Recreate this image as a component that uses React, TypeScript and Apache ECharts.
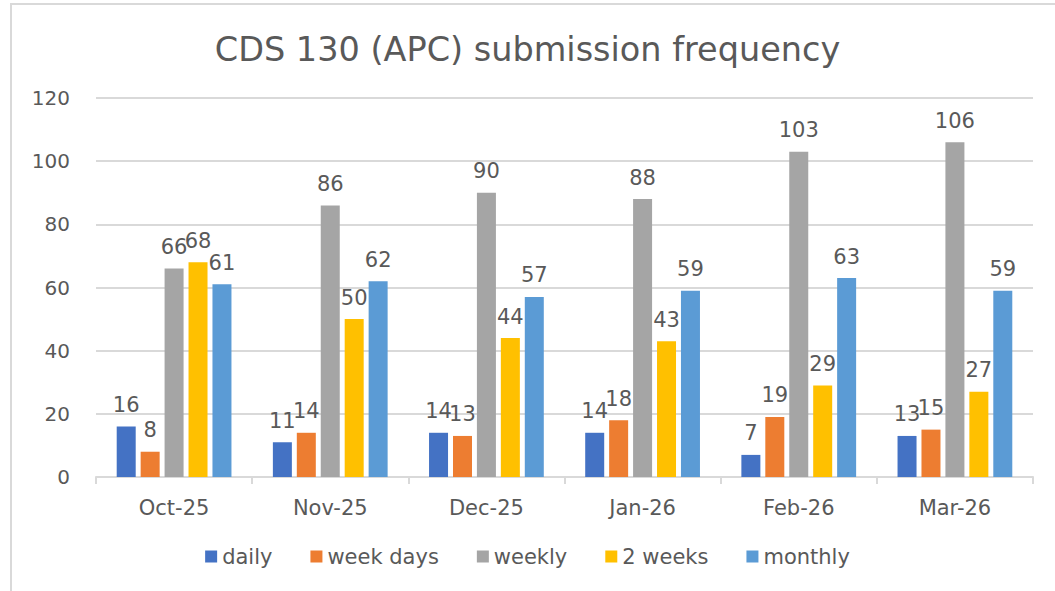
import React, { useEffect, useRef } from "react";
import * as echarts from "echarts";

const categories = ["Oct-25", "Nov-25", "Dec-25", "Jan-26", "Feb-26", "Mar-26"];
const daily = [16, 11, 14, 14, 7, 13];
const weekDays = [8, 14, 13, 18, 19, 15];
const weekly = [66, 86, 90, 88, 103, 106];
const twoWeeks = [68, 50, 44, 43, 29, 27];
const monthly = [61, 62, 57, 59, 63, 59];

const seriesNames = ["daily", "week days", "weekly", "2 weeks", "monthly"];
const seriesData = [daily, weekDays, weekly, twoWeeks, monthly];
const colors = ["#4472C4", "#ED7D31", "#A5A5A5", "#FFC000", "#5B9BD5"];

const FONT = "DejaVu Sans";
const TEXT = "#595959";

export default function App() {
  const ref = useRef<HTMLDivElement>(null);
  useEffect(() => {
    const chart = echarts.init(ref.current!, null, { renderer: "svg" });
    chart.setOption({
      animation: false,
      backgroundColor: "#ffffff",
      textStyle: { fontFamily: FONT },
      title: {
        text: "CDS 130 (APC) submission frequency",
        left: "center",
        top: 27,
        textStyle: { fontFamily: FONT, fontSize: 33.5, fontWeight: "normal", color: TEXT },
      },
      graphic: [
        {
          type: "rect",
          shape: { x: 11, y: 4, width: 1100, height: 700 },
          style: { fill: "none", stroke: "#d9d9d9", lineWidth: 2 },
          silent: true,
          z: 100,
        },
      ],
      legend: {
        bottom: 19,
        left: "center",
        itemWidth: 12,
        itemHeight: 12,
        itemGap: 38,
        icon: "rect",
        textStyle: { fontFamily: FONT, fontSize: 21, color: TEXT },
        data: seriesNames,
      },
      grid: { left: 96, right: 22, top: 98, bottom: 114, containLabel: false },
      xAxis: {
        type: "category",
        data: categories,
        axisLine: { lineStyle: { color: "#d9d9d9", width: 2 } },
        axisTick: { show: true, length: 7, lineStyle: { color: "#d9d9d9", width: 2 } },
        axisLabel: { fontFamily: FONT, fontSize: 21, color: TEXT, margin: 20 },
      },
      yAxis: {
        type: "value",
        min: 0,
        max: 120,
        interval: 20,
        axisLine: { show: false },
        axisTick: { show: false },
        splitLine: { lineStyle: { color: "#d9d9d9", width: 2 } },
        axisLabel: { fontFamily: FONT, fontSize: 20, color: TEXT, margin: 26 },
      },
      series: seriesNames.map((name, i) => ({
        name,
        type: "bar",
        data: seriesData[i],
        barWidth: 19,
        barGap: "26%",
        itemStyle: { color: colors[i] },
        label: {
          show: true,
          position: "top",
          distance: 11,
          fontFamily: FONT,
          fontSize: 21,
          color: TEXT,
        },
      })),
    });
    return () => chart.dispose();
  }, []);
  return (
    <div
      ref={ref}
      style={{ position: "absolute", left: 0, top: 0, width: 1055, height: 591 }}
    />
  );
}
